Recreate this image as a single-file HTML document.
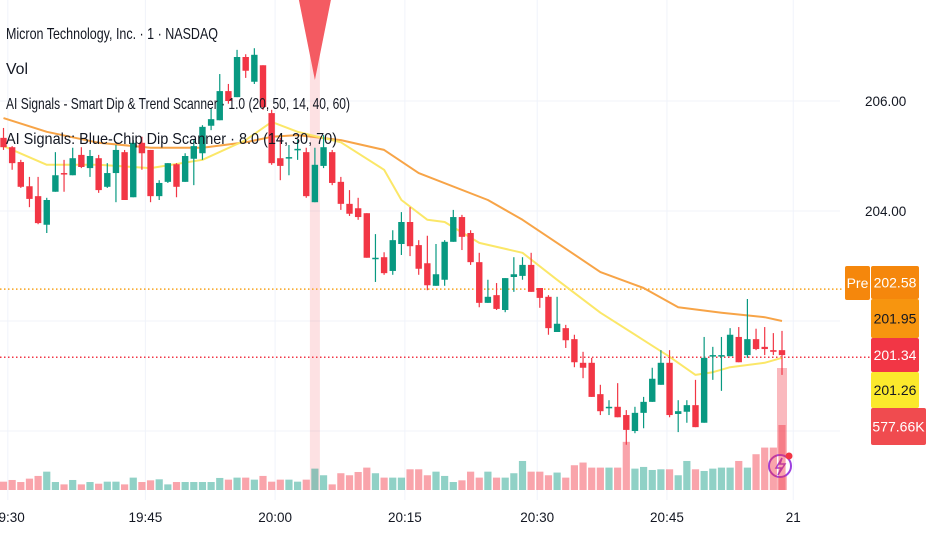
<!DOCTYPE html>
<html><head><meta charset="utf-8"><style>
html,body{margin:0;padding:0;background:#fff;}
svg{display:block;font-family:"Liberation Sans",sans-serif;}
</style></head><body>
<svg id="chart" width="932" height="550" viewBox="0 0 932 550" xmlns="http://www.w3.org/2000/svg">
<g id="grid"></g>
<g id="overlay"></g>
<g id="vol"></g>
<g id="ma"></g>
<g id="candles"></g>
<g id="legend" fill="#131722" font-size="16">
<text x="6" y="39" textLength="212" lengthAdjust="spacingAndGlyphs">Micron Technology, Inc. · 1 · NASDAQ</text>
<text x="6" y="74" textLength="22" lengthAdjust="spacingAndGlyphs">Vol</text>
<text x="6" y="109" textLength="344" lengthAdjust="spacingAndGlyphs">AI Signals - Smart Dip &amp; Trend Scanner · 1.0 (20, 50, 14, 40, 60)</text>
<text x="6" y="144" textLength="331" lengthAdjust="spacingAndGlyphs">AI Signals: Blue-Chip Dip Scanner · 8.0 (14, 30, 70)</text>
</g>
<g id="axis"></g>
<g id="taxis"></g>
</svg>
<script>
const opens=[205.33,205.16,204.89,204.45,204.27,203.75,204.35,204.69,204.65,205.02,204.78,204.96,204.44,204.69,205.07,204.25,205.24,205.11,204.27,204.53,204.85,204.53,204.95,205.05,205.55,205.65,206.18,206.07,206.80,206.35,206.65,205.78,204.96,204.96,205.11,205.07,204.16,204.82,205.07,204.53,204.13,204.05,203.96,203.13,203.16,202.91,203.40,203.80,203.38,203.05,202.64,202.75,203.44,203.89,203.60,203.07,202.33,202.47,202.20,202.80,202.82,203.02,202.60,202.44,201.80,201.87,201.67,201.24,201.24,200.67,200.42,200.44,200.29,200.00,200.33,200.53,200.84,201.24,200.31,200.35,200.47,200.15,201.36,201.36,201.36,201.71,201.38,201.67,201.53,201.47,201.47];
const highs=[205.51,205.18,204.93,204.62,204.62,204.24,205.07,204.93,205.15,205.16,205.11,205.02,204.87,205.20,205.11,205.29,205.35,205.11,204.56,204.87,204.87,205.05,205.29,205.56,205.87,206.49,206.31,206.93,206.85,206.96,206.65,205.84,205.33,205.20,205.29,205.15,205.15,205.38,205.11,204.62,204.38,204.24,203.96,203.58,203.25,203.65,203.98,204.07,203.47,203.55,203.40,203.47,204.02,203.93,203.65,203.24,202.75,202.69,202.78,203.16,203.16,203.24,202.60,202.47,202.44,201.93,201.75,201.44,201.33,200.84,200.56,200.87,200.38,200.44,200.62,201.15,201.47,201.47,200.56,200.56,200.93,201.71,201.53,201.71,201.87,201.89,202.40,201.86,201.89,201.78,201.82];
const lows=[205.11,204.75,204.42,204.07,203.76,203.60,204.35,204.35,204.65,204.78,204.62,204.33,204.42,204.16,204.20,204.25,204.75,204.16,204.20,204.51,204.25,204.53,204.47,204.93,205.47,205.65,205.95,206.07,206.42,206.31,205.84,204.84,204.56,204.65,204.93,204.24,204.16,204.78,204.47,204.02,203.91,203.84,203.15,202.71,202.84,202.84,203.20,203.18,202.84,202.56,202.64,202.64,203.44,203.29,203.02,202.25,202.33,202.20,202.16,202.53,202.75,202.53,202.24,201.75,201.80,201.51,201.16,200.96,200.62,200.29,200.29,200.25,199.75,199.96,200.05,200.53,200.84,200.25,199.98,200.15,200.07,200.15,200.93,200.73,201.36,201.25,201.33,201.47,201.38,201.38,201.02];
const closes=[205.16,204.87,204.44,204.22,203.78,204.20,204.65,204.67,204.96,204.80,205.00,204.38,204.69,205.11,204.20,205.24,205.05,204.27,204.51,204.87,204.44,205.00,205.18,205.53,205.67,206.18,206.00,206.80,206.55,206.84,205.89,204.87,204.82,204.98,205.13,204.27,204.84,205.16,204.51,204.13,203.95,203.89,203.15,203.15,202.87,203.47,203.80,203.36,202.95,202.65,202.85,203.44,203.89,203.53,203.07,202.33,202.44,202.22,202.78,202.85,203.02,202.53,202.42,201.87,201.95,201.65,201.25,201.15,200.62,200.36,200.44,200.25,200.02,200.33,200.53,200.95,201.24,200.29,200.36,200.47,200.07,201.33,201.38,201.38,201.75,201.25,201.67,201.49,201.49,201.44,201.38];
const volumes=[74,89,71,101,125,163,71,50,89,50,71,56,74,74,50,110,71,86,95,50,71,71,71,71,71,107,92,110,110,92,125,74,92,92,74,92,190,131,50,149,131,160,199,149,110,110,110,184,184,131,163,125,71,86,163,110,163,110,110,149,258,163,163,131,155,110,220,244,199,199,199,199,428,190,205,178,184,184,131,258,184,169,190,199,199,258,199,318,377,377,577.66];
const yellowIdx=[0,5,11,17,23,28,31,34,39,44,46,49,51,55,60,64,69,74,77,80,82,84,88,90];
const yellowVals=[205.18,204.84,204.84,204.78,204.93,205.29,205.62,205.44,205.25,204.75,204.20,203.84,203.80,203.42,203.24,202.75,202.15,201.65,201.35,201.02,201.07,201.16,201.24,201.33];
const orangeIdx=[0,5,11,17,23,28,31,34,39,44,48,56,60,64,69,74,78,83,88,90];
const orangeVals=[205.69,205.44,205.24,205.15,205.15,205.25,205.35,205.38,205.29,205.11,204.69,204.20,203.84,203.42,202.89,202.60,202.25,202.15,202.07,202.00];
const priceTicks=[206.00,204.00];
const gridPrices=[208,206,204,202,200];
const timeLabels=["19:30","19:45","20:00","20:15","20:30","20:45","21"];
const timeIdx=[0.5,16.4,31.4,46.4,61.7,76.7,91.3];
const signalIdx=36;
const preVal=202.58, lastVal=201.34, orangeLast=201.95, yellowLast=201.26;

const NS="http://www.w3.org/2000/svg";
const X=i=>3.5+8.65*i;
const Y=p=>101+(206-p)*55;
const VY=v=>490-v/577.66*65;
function mk(tag,attrs,parent,txt){const e=document.createElementNS(NS,tag);for(const k in attrs)e.setAttribute(k,attrs[k]);if(txt!==undefined)e.textContent=txt;parent.appendChild(e);return e;}
const G=id=>document.getElementById(id);

gridPrices.forEach(p=>{const l=mk('line',{x1:0,x2:840,y1:Y(p),y2:Y(p),stroke:'#f0f3fa','stroke-width':1},G('grid'));

});
timeIdx.forEach(t=>{const l=mk('line',{x1:X(t),x2:X(t),y1:0,y2:500,stroke:'#f0f3fa','stroke-width':1},G('grid'));

});

const sc=mk('rect',{x:X(signalIdx)-5,y:0,width:10,height:490,fill:'rgba(242,54,69,0.15)'},G('overlay'));


const tri=mk('polygon',{points:`${X(signalIdx)-16},0 ${X(signalIdx)+16},0 ${X(signalIdx)},80`,fill:'#f45b62'},G('overlay'));


const lc=mk('rect',{x:X(90)-5,y:368,width:10,height:122,fill:'rgba(242,54,69,0.35)'},G('overlay'));


const pl=mk('line',{x1:0,x2:843,y1:Y(preVal),y2:Y(preVal),stroke:'#f7a21b','stroke-width':1.5,'stroke-dasharray':'1.5 2.5'},G('overlay'));


const ll=mk('line',{x1:0,x2:870,y1:Y(lastVal),y2:Y(lastVal),stroke:'#f23645','stroke-width':1.5,'stroke-dasharray':'1.5 2.5'},G('overlay'));



volumes.forEach((v,i)=>{const up=closes[i]>=opens[i];
const r=mk('rect',{x:X(i)-3.6,y:VY(v),width:7.2,height:490-VY(v),fill:up?'rgba(8,153,129,0.45)':'rgba(242,54,69,0.45)'},G('vol'));

});

function line(idx,vals,color,name){const d=idx.map((k,j)=>(j?'L':'M')+X(k).toFixed(1)+' '+Y(vals[j]).toFixed(1)).join(' ');
const p=mk('path',{d:d,fill:'none',stroke:color,'stroke-width':2,'stroke-linejoin':'round'},G('ma'));

}
line(orangeIdx,orangeVals,'#f7a447','ma-slow-line');
line(yellowIdx,yellowVals,'#fbe768','ma-fast-line');

opens.forEach((o,i)=>{const c=closes[i],up=c>=o,col=up?'#089981':'#f23645';
const g=mk('g',{},G('candles'));


mk('line',{x1:X(i),x2:X(i),y1:Y(highs[i]),y2:Y(lows[i]),stroke:col,'stroke-width':1.2},g);
const t=Math.min(Y(o),Y(c)),h=Math.max(1.5,Math.abs(Y(o)-Y(c)));
mk('rect',{x:X(i)-3.2,y:t,width:6.4,height:h,fill:col},g);});

priceTicks.forEach(p=>{const t=mk('text',{x:865,y:Y(p)+5,'font-size':13.5,fill:'#131722'},G('axis'),p.toFixed(2));

});
function badge(x,y,w,h,bg,fg,txt,name){const g=mk('g',{},G('axis'));


mk('rect',{x:x,y:y,width:w,height:h,fill:bg,rx:2},g);
mk('text',{x:x+w/2,y:y+h/2+5,'font-size':14,fill:fg,'text-anchor':'middle'},g,txt);}
badge(845,266,25,34,'#f5870c','#fff','Pre','premarket-tag');
badge(871,266,48,33,'#f5870c','#fff',preVal.toFixed(2),'premarket-price-label');
badge(871,299,48,39,'#f7950f','#131722',orangeLast.toFixed(2),'ma-slow-value-label');
badge(871,338,48,34,'#f23645','#fff',lastVal.toFixed(2),'last-price-label');
badge(871,372,48,36,'#fbe92c','#131722',yellowLast.toFixed(2),'ma-fast-value-label');
badge(871,408,55,37,'#f04b4f','#fff','577.66K','volume-value-label');

timeLabels.forEach((s,j)=>{const t=mk('text',{x:X(timeIdx[j]),y:522,'font-size':13.5,fill:'#131722','text-anchor':'middle'},G('taxis'),s);

});

const ic=mk('g',{},G('overlay'));


mk('circle',{cx:780,cy:466,r:11,fill:'#fff',stroke:'#9c3fe0','stroke-width':2},ic);
mk('path',{d:'M782 458 L776 468 L781 468 L778 475 L785 464 L780 464 Z',fill:'none',stroke:'#9c3fe0','stroke-width':1.5},ic);
mk('circle',{cx:789,cy:456,r:3.5,fill:'#f23645'},ic);
</script>
</body></html>
